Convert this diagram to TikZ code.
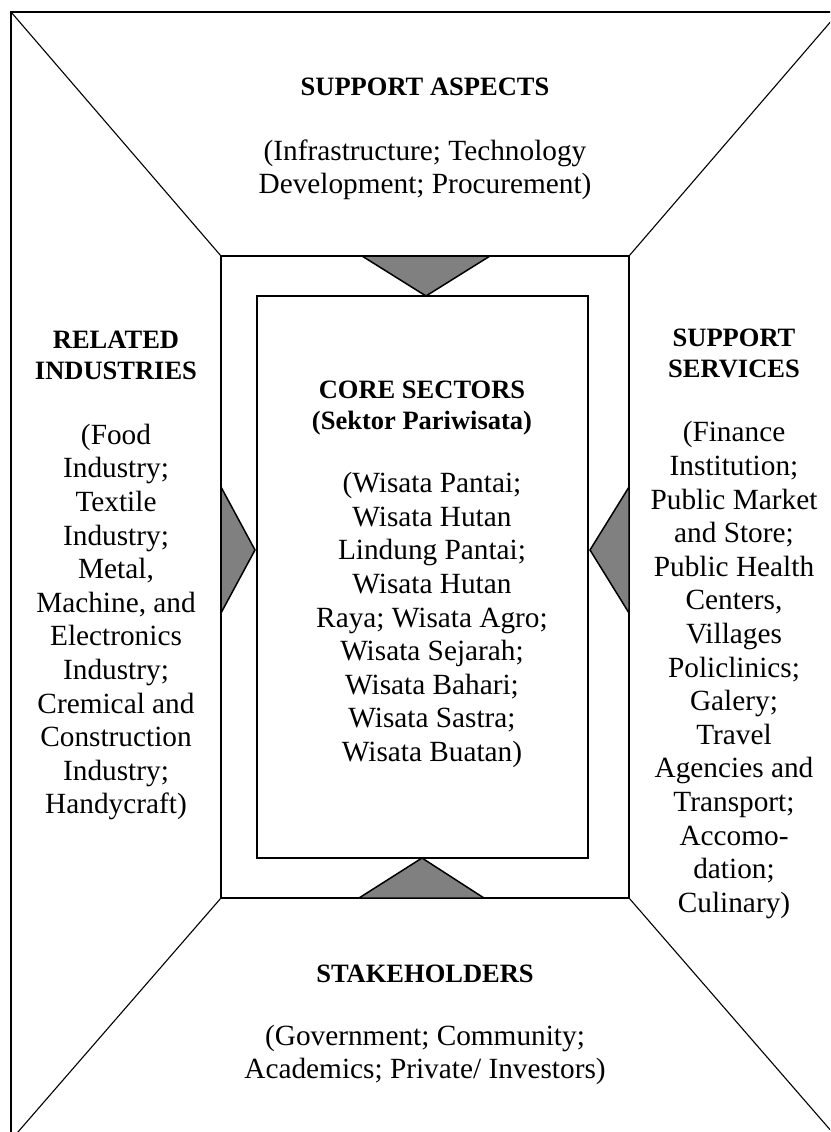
\documentclass[tikz,border=0pt]{standalone}
\usepackage{fontspec}
\setmainfont{Liberation Serif}
\definecolor{trigray}{HTML}{808080}
\tikzset{
  frameline/.style={line width=1.1pt},
  boxline/.style={line width=1.6pt},
  tri/.style={fill=trigray, draw=black, line width=1.5pt, line join=miter},
  head/.style={font=\bfseries\fontsize{26.5}{31}\selectfont, align=center, inner sep=0pt},
  body/.style={font=\fontsize{29.3}{33.6}\selectfont, align=center, inner sep=0pt},
}
\begin{document}
\begin{tikzpicture}[x=1pt,y=-1pt]
\useasboundingbox (0,0) rectangle (830,1132);
\clip (0,0) rectangle (830,1132);
\fill[white] (0,0) rectangle (830,1132);
% outer frame corners
\coordinate (OTL) at (11,12);
\coordinate (OTR) at (839,12);
\coordinate (OBL) at (11,1140);
\coordinate (OBR) at (839,1140);
% inner frame corners
\coordinate (ITL) at (221,256);
\coordinate (ITR) at (629,256);
\coordinate (IBL) at (221,898);
\coordinate (IBR) at (629,898);
% core box
\coordinate (CTL) at (257,296);
\coordinate (CBR) at (588,858);

\draw[frameline] (OTL) rectangle (OBR);
\draw[frameline] (OTL) -- (ITL);
\draw[frameline] (OTR) -- (ITR);
\draw[frameline] (OBL) -- (IBL);
\draw[frameline] (OBR) -- (IBR);
\draw[boxline] (ITL) rectangle (IBR);
\draw[boxline] (CTL) rectangle (CBR);

% triangles
\coordinate (T1) at (362,256); \coordinate (T2) at (490,256); \coordinate (T3) at (426,296);
\coordinate (B1) at (359,898); \coordinate (B2) at (484,898); \coordinate (B3) at (422,858);
\coordinate (L1) at (221,487); \coordinate (L2) at (221,613); \coordinate (L3) at (255,550);
\coordinate (R1) at (629,487); \coordinate (R2) at (629,613); \coordinate (R3) at (590,550);
\draw[tri] (T1) -- (T2) -- (T3) -- cycle;
\draw[tri] (B1) -- (B2) -- (B3) -- cycle;
\draw[tri] (L1) -- (L3) -- (L2) -- cycle;
\draw[tri] (R1) -- (R3) -- (R2) -- cycle;

% texts
\node[head] (saH) at (425,87) {SUPPORT ASPECTS};
\node[body] (saB) at (425,170) {(Infrastructure; Technology\\Development; Procurement)};

\node[head] (riH) at (116,355) {RELATED\\INDUSTRIES};
\node[body] (riB) at (116,622) {(Food\\Industry;\\Textile\\Industry;\\Metal,\\Machine, and\\Electronics\\Industry;\\Cremical and\\Construction\\Industry;\\Handycraft)};

\node[head] (csH) at (422,408) {CORE SECTORS\\(Sektor Pariwisata)};
\node[body] (csB) at (432,620) {(Wisata Pantai;\\Wisata Hutan\\Lindung Pantai;\\Wisata Hutan\\Raya; Wisata Agro;\\Wisata Sejarah;\\Wisata Bahari;\\Wisata Sastra;\\Wisata Buatan)};

\node[head] (ssH) at (734,353) {SUPPORT\\SERVICES};
\node[body] (ssB) at (734,670) {(Finance\\Institution;\\Public Market\\and Store;\\Public Health\\Centers,\\Villages\\Policlinics;\\Galery;\\Travel\\Agencies and\\Transport;\\Accomo-\\dation;\\Culinary)};

\node[head] (stH) at (425,974) {STAKEHOLDERS};
\node[body] (stB) at (425,1055) {(Government; Community;\\Academics; Private/ Investors)};
\end{tikzpicture}
\end{document}
